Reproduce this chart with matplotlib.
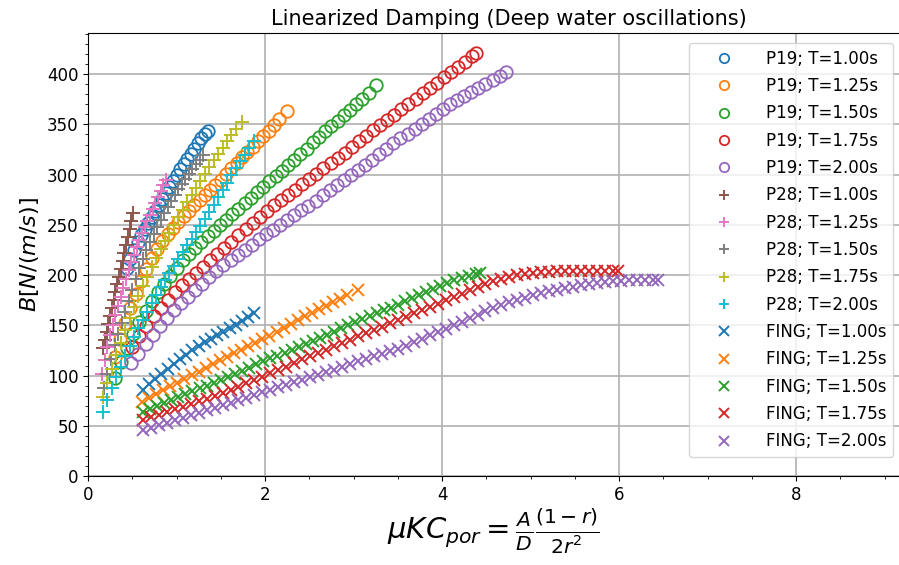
import numpy as np
import matplotlib
matplotlib.use("Agg")
import matplotlib.pyplot as plt

# ---- data ----------------------------------------------------------------
periods = ["1.00", "1.25", "1.50", "1.75", "2.00"]

# P19 (open circles)
p19_x = [
  [0.44,0.48,0.52,0.56,0.60,0.64,0.68,0.72,0.76,0.80,0.84,0.88,0.92,0.96,1.00,1.04,1.08,1.12,1.16,1.20,1.24,1.28,1.32,1.36],
  [0.30,0.36,0.42,0.48,0.54,0.60,0.66,0.72,0.78,0.84,0.90,0.96,1.02,1.08,1.14,1.20,1.26,1.32,1.38,1.44,1.50,1.56,1.62,1.68,1.74,1.80,1.86,1.92,1.98,2.04,2.10,2.16,2.25],
  [0.30,0.37,0.44,0.51,0.58,0.65,0.72,0.79,0.86,0.93,1.00,1.07,1.14,1.21,1.28,1.35,1.42,1.49,1.56,1.63,1.70,1.77,1.84,1.91,1.98,2.05,2.12,2.19,2.26,2.33,2.40,2.47,2.54,2.61,2.68,2.75,2.82,2.89,2.96,3.03,3.10,3.17,3.25],
  [0.50,0.58,0.66,0.74,0.82,0.90,0.98,1.06,1.14,1.22,1.30,1.38,1.46,1.54,1.62,1.70,1.78,1.86,1.94,2.02,2.10,2.18,2.26,2.34,2.42,2.50,2.58,2.66,2.74,2.82,2.90,2.98,3.06,3.14,3.22,3.30,3.38,3.46,3.54,3.62,3.70,3.78,3.86,3.94,4.02,4.10,4.18,4.26,4.34,4.38],
  [0.49,0.57,0.65,0.73,0.81,0.89,0.97,1.05,1.13,1.21,1.29,1.37,1.45,1.53,1.61,1.69,1.77,1.85,1.93,2.01,2.09,2.17,2.25,2.33,2.41,2.49,2.57,2.65,2.73,2.81,2.89,2.97,3.05,3.13,3.21,3.29,3.37,3.45,3.53,3.61,3.69,3.77,3.85,3.93,4.01,4.09,4.17,4.25,4.33,4.41,4.49,4.57,4.65,4.72],
]
p19_y = [
  [207,216,225,233,240,246,252,258,264,270,276,282,288,294,300,306,311,316,321,326,331,336,340,343],
  [118,136,152,167,181,194,206,217,226,234,241,247,253,259,264,270,275,280,285,290,295,301,307,312,318,323,328,333,338,343,349,355,363],
  [98,113,127,141,153,164,174,183,191,199,207,215,221,227,233,239,244,250,255,261,266,272,277,283,288,294,299,304,310,315,321,326,332,337,343,348,353,359,364,370,375,381,389],
  [128,139,149,159,167,175,183,190,196,202,208,215,221,227,233,240,246,252,258,264,270,275,280,285,291,296,301,307,312,317,322,328,333,338,344,349,354,359,365,370,375,381,386,391,397,402,407,412,418,421],
  [112,121,131,140,149,157,165,172,178,185,191,198,204,210,215,220,225,230,236,241,245,250,255,260,265,269,274,280,285,290,295,300,305,310,315,321,326,331,336,340,345,350,355,360,365,370,374,378,382,386,390,394,398,402],
]

# P28 (plus)
p28_x = [
  [0.17,0.19,0.21,0.23,0.25,0.27,0.29,0.31,0.33,0.35,0.37,0.39,0.41,0.43,0.45,0.47,0.49,0.51],
  [0.16,0.19,0.22,0.25,0.28,0.31,0.34,0.37,0.40,0.43,0.46,0.49,0.52,0.55,0.58,0.61,0.64,0.67,0.70,0.73,0.76,0.79,0.82,0.85,0.88],
  [0.18,0.22,0.26,0.30,0.34,0.38,0.42,0.46,0.50,0.54,0.58,0.62,0.66,0.70,0.74,0.78,0.82,0.86,0.90,0.94,0.98,1.02,1.06,1.10,1.14,1.18,1.22,1.26,1.30],
  [0.17,0.22,0.27,0.32,0.37,0.42,0.47,0.52,0.57,0.62,0.67,0.72,0.77,0.82,0.87,0.92,0.97,1.02,1.07,1.12,1.17,1.22,1.27,1.32,1.37,1.42,1.47,1.52,1.57,1.62,1.67,1.74],
  [0.17,0.22,0.27,0.32,0.37,0.42,0.47,0.52,0.57,0.62,0.67,0.72,0.77,0.82,0.87,0.92,0.97,1.02,1.07,1.12,1.17,1.22,1.27,1.32,1.37,1.42,1.47,1.52,1.57,1.62,1.67,1.72,1.77,1.82,1.87],
]
p28_y = [
  [127,135,143,151,159,167,175,183,191,198,206,214,222,230,238,246,254,262],
  [102,115,128,140,150,160,169,178,187,196,205,213,220,228,235,242,248,254,260,266,272,278,284,290,295],
  [88,102,116,130,141,152,163,174,185,196,207,216,225,233,241,248,255,262,268,274,280,286,291,296,301,306,311,315,320],
  [79,93,107,120,132,145,157,168,179,189,198,208,217,226,234,242,250,258,265,273,280,287,294,301,308,315,321,327,333,339,345,352],
  [64,76,88,99,109,119,129,138,147,155,163,172,180,188,195,202,209,216,223,230,236,243,249,256,263,270,278,285,292,300,307,314,320,327,333],
]

# FING (x)
fing_x = [
  [0.62,0.69,0.76,0.83,0.90,0.97,1.04,1.11,1.18,1.25,1.32,1.39,1.46,1.53,1.60,1.67,1.74,1.81,1.87],
  [0.61,0.69,0.77,0.85,0.93,1.01,1.09,1.17,1.25,1.33,1.41,1.49,1.57,1.65,1.73,1.81,1.89,1.97,2.05,2.13,2.21,2.29,2.37,2.45,2.53,2.61,2.69,2.77,2.85,2.93,3.05],
  [0.62,0.70,0.78,0.86,0.94,1.02,1.10,1.18,1.26,1.34,1.42,1.50,1.58,1.66,1.74,1.82,1.90,1.98,2.06,2.14,2.22,2.30,2.38,2.46,2.54,2.62,2.70,2.78,2.86,2.94,3.02,3.10,3.18,3.26,3.34,3.42,3.50,3.58,3.66,3.74,3.82,3.90,3.98,4.06,4.14,4.22,4.30,4.38,4.43],
  [0.62,0.71,0.80,0.89,0.98,1.07,1.16,1.25,1.34,1.43,1.52,1.61,1.70,1.79,1.88,1.97,2.06,2.15,2.24,2.33,2.42,2.51,2.60,2.69,2.78,2.87,2.96,3.05,3.14,3.23,3.32,3.41,3.50,3.59,3.68,3.77,3.86,3.95,4.04,4.13,4.22,4.31,4.40,4.49,4.58,4.67,4.76,4.85,4.94,5.03,5.12,5.21,5.30,5.39,5.48,5.57,5.66,5.75,5.84,5.93,5.99],
  [0.62,0.71,0.80,0.89,0.98,1.07,1.16,1.25,1.34,1.43,1.52,1.61,1.70,1.79,1.88,1.97,2.06,2.15,2.24,2.33,2.42,2.51,2.60,2.69,2.78,2.87,2.96,3.05,3.14,3.23,3.32,3.41,3.50,3.59,3.68,3.77,3.86,3.95,4.04,4.13,4.22,4.31,4.40,4.49,4.58,4.67,4.76,4.85,4.94,5.03,5.12,5.21,5.30,5.39,5.48,5.57,5.66,5.75,5.84,5.93,6.02,6.11,6.20,6.29,6.38,6.44],
]
fing_y = [
  [86,92,97,102,107,111,116,120,125,129,133,136,140,143,147,150,154,158,162],
  [74,78,82,86,90,93,97,101,104,108,111,115,118,122,125,129,132,136,139,143,147,151,155,159,162,166,169,173,176,180,185],
  [64,67,70,73,76,79,82,85,88,90,93,96,99,102,105,108,111,114,117,119,122,125,128,131,134,137,140,143,147,150,153,156,159,162,165,167,170,174,177,180,183,186,189,192,195,197,199,201,202],
  [56,59,61,64,67,69,72,75,77,80,83,86,89,93,96,99,103,106,109,112,116,119,122,125,129,132,135,139,142,145,148,152,155,158,162,165,168,171,175,178,181,185,188,191,194,196,198,200,201,202,203,203,204,204,204,204,204,204,204,204,204],
  [46,48,51,53,56,58,61,63,66,68,71,73,76,78,81,84,86,89,91,94,96,99,101,104,106,109,111,114,116,119,121,124,126,129,133,136,140,143,146,150,153,157,160,164,167,170,173,175,177,180,182,184,185,187,188,190,191,192,193,194,194,195,195,195,195,195],
]

###################################################
W, H = 899, 565
fig = plt.figure(figsize=(W/100., H/100.), dpi=100)
# axes runs a bit past the right edge of the picture, like the original
ax = fig.add_axes([88./W, (H-476.)/H, 841./W, 443./H])

for i in range(5):
  ax.plot(p19_x[i], p19_y[i], 'o', color='C%d' % i, mfc='none', ms=9, mew=1.3,
          label='P19; T=%ss' % periods[i])
for i in range(5):
  ax.plot(p28_x[i], p28_y[i], '+', color='C%d' % (i+5), ms=10, mew=1.4,
          label='P28; T=%ss' % periods[i])
for i in range(5):
  ax.plot(fing_x[i], fing_y[i], 'x', color='C%d' % i, ms=9, mew=1.4,
          label='FING; T=%ss' % periods[i])

ax.set_xlim(0, 9.5)
ax.set_ylim(0, 441)
ax.set_xticks([0, 2, 4, 6, 8])
ax.set_xticks(np.arange(0, 9.6, 0.5), minor=True)
ax.set_yticks(np.arange(0, 401, 50))
ax.set_yticks(np.arange(0, 441, 10), minor=True)
ax.tick_params(labelsize=12)
ax.grid(True, which='major', color='#b0b0b0', lw=1.2)
ax.set_axisbelow(True)

ax.set_title('Linearized Damping (Deep water oscillations)', fontsize=15)
ax.set_ylabel(r'$B [N/(m/s)]$', fontsize=16)
ax.set_xlabel(r'$\mu KC_{por} = \frac{A}{D}\frac{(1-r)}{2r^2}$', fontsize=21)
ax.xaxis.set_label_coords(0.4816, -0.068)

ax.legend(loc='upper right', bbox_to_anchor=(893./W, 1-43./H),
          bbox_transform=fig.transFigure, fontsize=12, markerscale=0.75,
          borderaxespad=0, labelspacing=0.56, handlelength=3.4)

fig.savefig('out.png', dpi=100)
